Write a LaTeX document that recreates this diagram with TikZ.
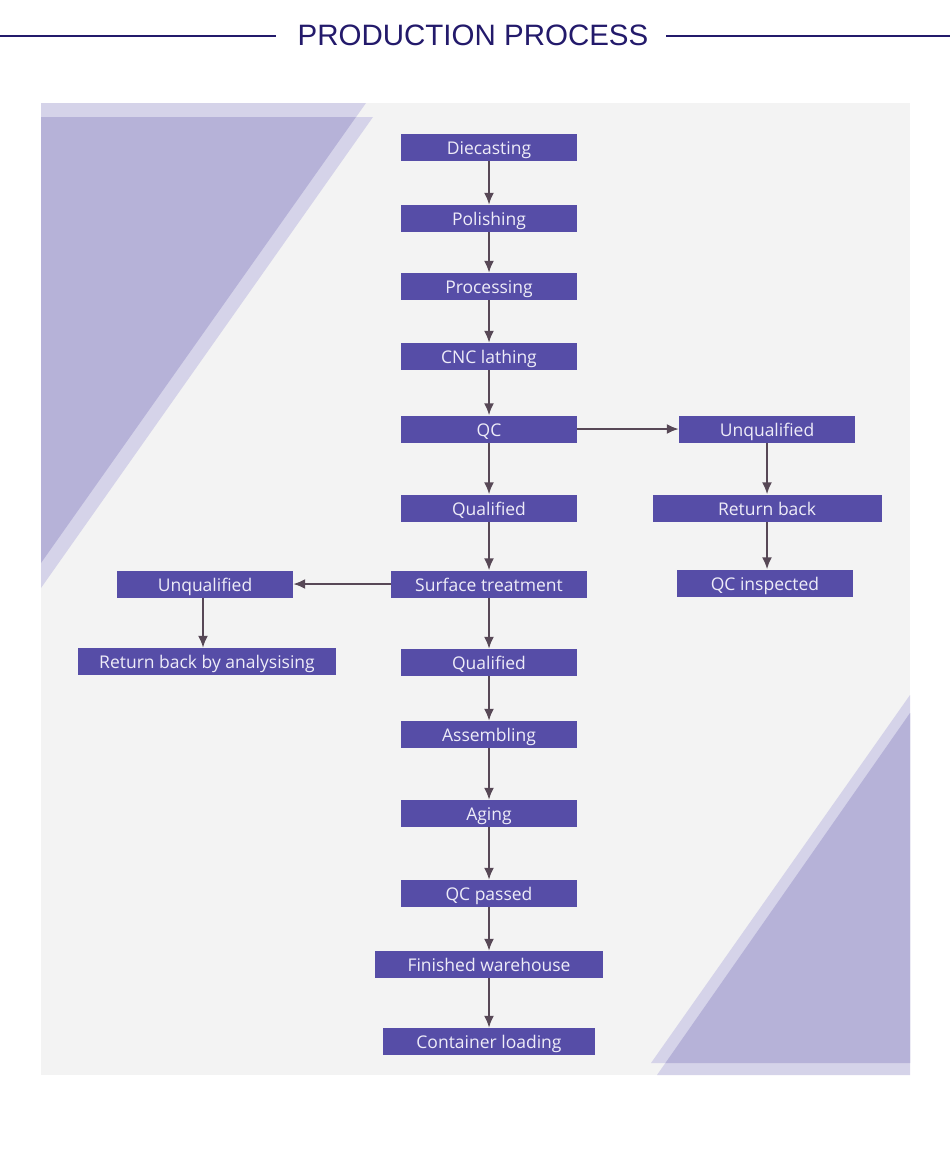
\documentclass[tikz,border=0pt]{standalone}
\usepackage{fontspec}
\setmainfont{Open Sans}
\newfontfamily\titlefont{Liberation Sans}
\usetikzlibrary{arrows.meta}
\definecolor{panelcol}{HTML}{F3F3F3}
\definecolor{lightcol}{HTML}{D5D3E9}
\definecolor{darkcol}{HTML}{B6B2D8}
\definecolor{boxcol}{HTML}{564DA7}
\definecolor{boxtext}{HTML}{EEECF8}
\definecolor{arrcol}{HTML}{574856}
\definecolor{titlecol}{HTML}{231A6B}
\tikzset{
  stepbox/.style={rectangle, fill=boxcol, text=boxtext, minimum height=27pt, inner sep=0pt,
    text height=14.5pt, text depth=0pt, font=\fontsize{17.5}{17.5}\selectfont},
  arr/.style={draw=arrcol, line width=2pt, -{Latex[length=12pt,width=10pt]}},
  titleline/.style={draw=titlecol, line width=1.3pt}
}
\begin{document}
\begin{tikzpicture}[x=1pt,y=-1pt]
\useasboundingbox (0,0) rectangle (950,1156);
% title
\node[font=\titlefont\fontsize{29.5}{30}\selectfont, text=titlecol, inner sep=0pt] (title) at (473,35.5) {PRODUCTION PROCESS};
\draw[titleline] (0,36) -- (276,36);
\draw[titleline] (666,36) -- (950,36);
% panel
\fill[panelcol] (41,103) rectangle (910,1075);
\fill[lightcol] (41,117) -- (373,117) -- (41,588) -- cycle;
\fill[lightcol] (41,103) -- (366,103) -- (41,563) -- cycle;
\fill[darkcol] (41,117) -- (356,117) -- (41,563) -- cycle;
\fill[lightcol] (910,695) -- (910,1063) -- (651,1063) -- cycle;
\fill[lightcol] (910,713) -- (910,1075) -- (657,1075) -- cycle;
\fill[darkcol] (910,713) -- (910,1063) -- (665.4,1063) -- cycle;
% main column
\node[stepbox, minimum width=176pt] (n1) at (489,147.5) {Diecasting};
\node[stepbox, minimum width=176pt] (n2) at (489,218.5) {Polishing};
\node[stepbox, minimum width=176pt] (n3) at (489,286.5) {Processing};
\node[stepbox, minimum width=176pt] (n4) at (489,356.5) {CNC lathing};
\node[stepbox, minimum width=176pt] (n5) at (489,429) {QC};
\node[stepbox, minimum width=176pt] (n6) at (489,508) {Qualified};
\node[stepbox, minimum width=196pt] (n7) at (489,584) {Surface treatment};
\node[stepbox, minimum width=176pt] (n8) at (489,662.5) {Qualified};
\node[stepbox, minimum width=176pt] (n9) at (489,734.5) {Assembling};
\node[stepbox, minimum width=176pt] (n10) at (489,813.5) {Aging};
\node[stepbox, minimum width=176pt] (n11) at (489,893.5) {QC passed};
\node[stepbox, minimum width=228pt] (n12) at (489,964.5) {Finished warehouse};
\node[stepbox, minimum width=212pt] (n13) at (489,1041.5) {Container loading};
% right column
\node[stepbox, minimum width=176pt] (r1) at (767,429) {Unqualified};
\node[stepbox, minimum width=229pt] (r2) at (767,508) {Return back};
\node[stepbox, minimum width=176pt] (r3) at (765,583) {QC inspected};
% left column
\node[stepbox, minimum width=176pt] (l1) at (205,584) {Unqualified};
\node[stepbox, minimum width=258pt] (l2) at (207,661.5) {Return back by analysising};
% arrows
\draw[arr] (n1) -- (n2);
\draw[arr] (n2) -- (n3);
\draw[arr] (n3) -- (n4);
\draw[arr] (n4) -- (n5);
\draw[arr] (n5) -- (n6);
\draw[arr] (n6) -- (n7);
\draw[arr] (n7) -- (n8);
\draw[arr] (n8) -- (n9);
\draw[arr] (n9) -- (n10);
\draw[arr] (n10) -- (n11);
\draw[arr] (n11) -- (n12);
\draw[arr] (n12) -- (n13);
\draw[arr] (n5) -- (r1);
\draw[arr] (r1) -- (r1 |- r2.north);
\draw[arr] (r2.south -| r1) -- (r1 |- r3.north);
\draw[arr] (n7) -- (l1);
\draw[arr] (l1.south -| 203,0) -- (l2.north -| 203,0);
\end{tikzpicture}
\end{document}
